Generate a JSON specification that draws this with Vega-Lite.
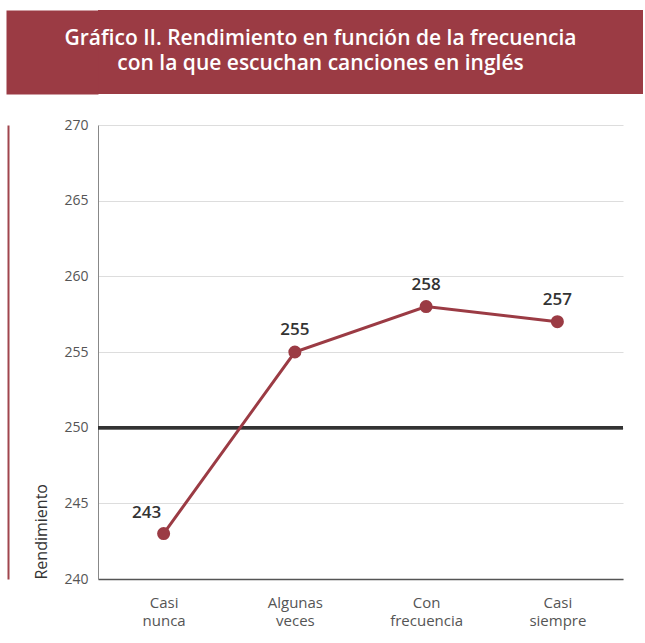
{
  "$schema": "https://vega.github.io/schema/vega-lite/v6.json",
  "background": "white",
  "padding": {"left": 8, "top": 10, "right": 0, "bottom": 5},
  "spacing": 24,
  "config": {"font": "Open Sans", "view": {"stroke": null}},
  "datasets": {
    "titulo": [{"t": "Gráfico II. Rendimiento en función de la frecuencia\ncon la que escuchan canciones en inglés"}],
    "datos": [
      {"frecuencia": "Casi nunca", "rendimiento": 243},
      {"frecuencia": "Algunas veces", "rendimiento": 255},
      {"frecuencia": "Con frecuencia", "rendimiento": 258},
      {"frecuencia": "Casi siempre", "rendimiento": 257}
    ]
  },
  "vconcat": [
    {
      "width": 545,
      "height": 84,
      "view": {"fill": "#9b3b44", "stroke": null},
      "data": {"name": "titulo"},
      "mark": {"type": "text", "lineBreak": "\n", "lineHeight": 25, "fontSize": 21, "fontWeight": 600, "color": "white", "baseline": "middle", "align": "center", "dy": -13, "dx": -50},
      "encoding": {
        "text": {"field": "t"},
        "y": {"datum": 0.5, "type": "quantitative", "scale": {"domain": [0, 1]},
          "axis": {"title": null, "labels": false, "ticks": false, "grid": false, "offset": 46, "domainWidth": 92, "domainColor": "#9b3b44", "domainCap": "butt"}}
      }
    },
    {
      "width": 525,
      "height": 454,
      "data": {"name": "datos"},
      "layer": [
        {
          "encoding": {
            "x": {"field": "frecuencia", "type": "nominal", "sort": null,
              "scale": {"type": "point", "padding": 0.5},
              "axis": {"title": null, "labelAngle": 0, "ticks": false, "grid": false,
                "labelExpr": "split(datum.label, ' ')", "labelFontSize": 15, "labelColor": "#555",
                "labelPadding": 16, "labelLineHeight": 18, "domainColor": "#555", "domainWidth": 1.5}},
            "y": {"field": "rendimiento", "type": "quantitative",
              "scale": {"domain": [240, 270], "nice": false, "zero": false},
              "axis": {"title": "Rendimiento", "titleAnchor": "start", "titleFontSize": 16, "titleFontWeight": "normal",
                "titleColor": "#333", "titlePadding": 14, "values": [240, 245, 250, 255, 260, 265, 270],
                "ticks": false, "labelFontSize": 14, "labelColor": "#555", "labelPadding": 10,
                "gridColor": "#dddddd", "gridWidth": 1, "domainColor": "#888", "domainWidth": 1}}
          },
          "layer": [
            {"mark": {"type": "rule", "color": "#333", "strokeWidth": 3}, "encoding": {"y": {"datum": 250}, "x": {"value": 0}, "x2": {"value": 525}}},
            {"mark": {"type": "line", "color": "#9b3b44", "strokeWidth": 3}},
            {"mark": {"type": "circle", "color": "#9b3b44", "opacity": 1, "size": 170}},
            {"transform": [{"filter": "datum.frecuencia != 'Casi nunca'"}],
             "mark": {"type": "text", "fontSize": 17, "fontWeight": 600, "letterSpacing": 1, "color": "#333", "baseline": "bottom", "dy": -13},
             "encoding": {"text": {"field": "rendimiento"}}},
            {"transform": [{"filter": "datum.frecuencia == 'Casi nunca'"}],
             "mark": {"type": "text", "fontSize": 17, "fontWeight": 600, "letterSpacing": 1, "color": "#333", "baseline": "bottom", "dy": -12, "dx": -17},
             "encoding": {"text": {"field": "rendimiento"}}}
          ]
        },
        {"mark": {"type": "point", "opacity": 0},
         "encoding": {
           "x": {"field": "frecuencia", "type": "nominal", "sort": null},
           "y": {"field": "rendimiento", "type": "quantitative",
             "axis": {"orient": "left", "offset": 90, "domainColor": "#a0454d", "domainWidth": 2, "labels": false, "ticks": false, "grid": false, "title": null}}}}
      ],
      "resolve": {"axis": {"y": "independent"}}
    }
  ]
}
